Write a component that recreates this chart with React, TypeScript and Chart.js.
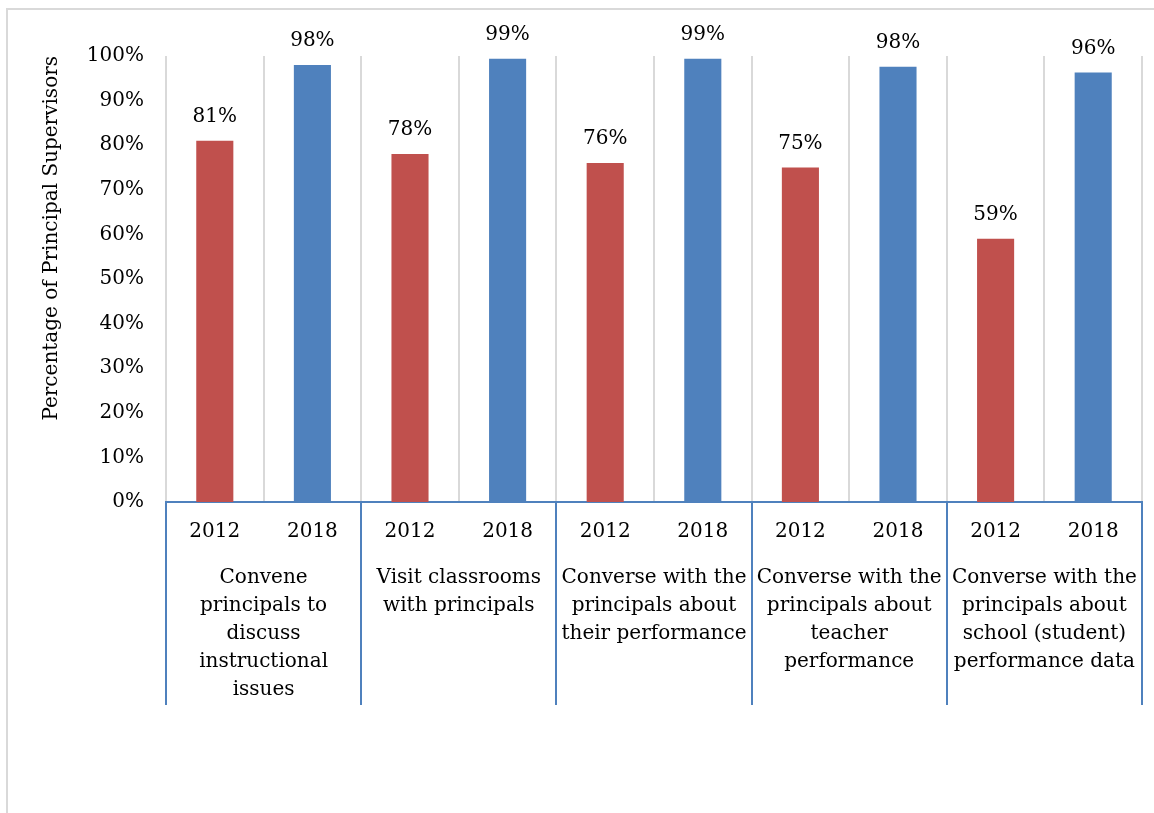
import React, { useEffect, useRef } from "react";
import { Chart, registerables } from "chart.js";

Chart.register(...registerables);

const years = ["2012", "2018"];
const groupLabels = [
  ["Convene", "principals to", "discuss", "instructional", "issues"],
  ["Visit classrooms", "with principals"],
  ["Converse with the", "principals about", "their performance"],
  ["Converse with the", "principals about", "teacher", "performance"],
  ["Converse with the", "principals about", "school (student)", "performance data"],
];
const values2012 = [81, 78, 76, 75, 59];
const values2018 = [98, 99.4, 99.4, 97.6, 96.3];
const yTicks = [0, 10, 20, 30, 40, 50, 60, 70, 80, 90, 100];

const RED = "#c0504d";
const BLUE = "#4f81bd";
const FONT = '"DejaVu Serif"';

export default function App() {
  const ref = useRef<HTMLCanvasElement | null>(null);

  useEffect(() => {
    if (!ref.current) return;
    const labels: string[] = [];
    const data: number[] = [];
    const colors: string[] = [];
    values2012.forEach((v, i) => {
      labels.push(years[0], years[1]);
      data.push(v, values2018[i]);
      colors.push(RED, BLUE);
    });

    const overlay = {
      id: "overlay",
      afterDatasetsDraw(chart: any) {
        const ctx = chart.ctx;
        const meta = chart.getDatasetMeta(0);
        ctx.save();
        ctx.font = `20px ${FONT}`;
        ctx.fillStyle = "#000";
        ctx.textAlign = "center";
        ctx.textBaseline = "middle";
        meta.data.forEach((bar: any, i: number) => {
          ctx.fillText(Math.round(data[i]) + "%", bar.x, bar.y - 24);
        });
        ctx.restore();
      },
      afterDraw(chart: any) {
        const x = chart.scales.x;
        const x2 = chart.scales.x2;
        const ctx = chart.ctx;
        ctx.save();
        ctx.strokeStyle = BLUE;
        ctx.lineWidth = 2;
        const top = chart.chartArea.bottom;
        const bottom = x2.bottom;
        const n = groupLabels.length;
        for (let g = 0; g <= n; g++) {
          let px: number;
          if (g === 0) px = x.left;
          else if (g === n) px = x.right;
          else px = (x.getPixelForTick(2 * g - 1) + x.getPixelForTick(2 * g)) / 2;
          px = Math.round(px);
          ctx.beginPath();
          ctx.moveTo(px, top);
          ctx.lineTo(px, bottom);
          ctx.stroke();
        }
        ctx.restore();
      },
    };

    const chart = new Chart(ref.current, {
      type: "bar",
      data: {
        labels,
        datasets: [
          {
            data,
            backgroundColor: colors,
            borderWidth: 0,
            barPercentage: 0.38,
            categoryPercentage: 1,
          },
        ],
      },
      options: {
        responsive: false,
        animation: false,
        events: [],
        layout: { padding: { left: 0, right: 12, top: 56, bottom: 108 } },
        plugins: {
          legend: { display: false },
          tooltip: { enabled: false },
          title: { display: false },
        },
        scales: {
          x: {
            type: "category",
            position: "bottom",
            offset: true,
            grid: {
              display: true,
              offset: true,
              color: "#d9d9d9",
              lineWidth: 2,
              drawTicks: false,
            },
            border: { display: true, color: BLUE, width: 2 },
            ticks: {
              font: { family: FONT, size: 20, lineHeight: 1.2 },
              color: "#000",
              padding: 18,
              maxRotation: 0,
              autoSkip: false,
            },
            afterFit: (s: any) => {
              s.height = 58;
            },
          },
          x2: {
            type: "category",
            position: "bottom",
            labels: groupLabels as any,
            offset: true,
            grid: { display: false, drawTicks: false },
            border: { display: false },
            ticks: {
              font: { family: FONT, size: 20, lineHeight: 1.4 },
              color: "#000",
              padding: 4,
              maxRotation: 0,
              autoSkip: false,
            },
            afterFit: (s: any) => {
              s.height = 145;
            },
          },
          y: {
            min: yTicks[0],
            max: yTicks[yTicks.length - 1],
            grid: { display: false, drawTicks: false },
            border: { display: false },
            afterBuildTicks: (s: any) => {
              s.ticks = yTicks.map((v) => ({ value: v }));
            },
            ticks: {
              font: { family: FONT, size: 20 },
              color: "#000",
              padding: 22,
              callback: (v: any) => v + "%",
            },
            title: {
              display: true,
              text: "Percentage of Principal Supervisors",
              align: "end",
              color: "#000",
              font: { family: FONT, size: 20, lineHeight: 1.2 },
              padding: { top: 40, bottom: 0 },
            },
            afterFit: (s: any) => {
              s.width = 166;
            },
          },
        },
      },
      plugins: [overlay],
    });
    return () => chart.destroy();
  }, []);

  return (
    <div style={{ position: "absolute", left: 0, top: 0, width: 1154, height: 813, background: "#fff" }}>
      <div
        style={{
          position: "absolute",
          left: 6,
          top: 8,
          width: 1148,
          height: 805,
          boxSizing: "border-box",
          borderLeft: "2px solid #d9d9d9",
          borderTop: "2px solid #d9d9d9",
        }}
      />
      <canvas
        ref={ref}
        width={1154}
        height={813}
        style={{ position: "absolute", left: 0, top: 0, display: "block" }}
      />
    </div>
  );
}
